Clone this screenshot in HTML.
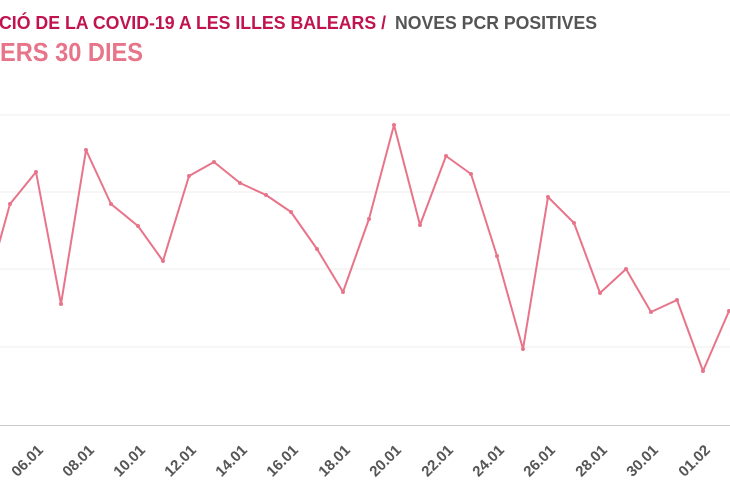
<!DOCTYPE html>
<html><head><meta charset="utf-8"><style>
html,body{margin:0;padding:0;background:#fff;width:730px;height:500px;overflow:hidden}
svg{display:block}
text{font-family:"Liberation Sans",sans-serif;font-weight:bold}
</style></head><body>
<svg width="730" height="500" viewBox="0 0 730 500">
<text x="-1" y="29" font-size="18" fill="#c0134f" textLength="387" lengthAdjust="spacingAndGlyphs">CIÓ DE LA COVID-19 A LES ILLES BALEARS /</text>
<text x="395" y="29" font-size="18" fill="#555" textLength="202" lengthAdjust="spacingAndGlyphs">NOVES PCR POSITIVES</text>
<text x="0" y="61" font-size="26" fill="#e8748a" textLength="143" lengthAdjust="spacingAndGlyphs">ERS 30 DIES</text>
<g stroke="#eee" stroke-width="1">
<line x1="0" x2="730" y1="115" y2="115"/>
<line x1="0" x2="730" y1="192" y2="192"/>
<line x1="0" x2="730" y1="269" y2="269"/>
<line x1="0" x2="730" y1="347" y2="347"/>
</g>
<line x1="0" x2="730" y1="425.5" y2="425.5" stroke="#ccc" stroke-width="1"/>
<polyline fill="none" stroke="#e8748a" stroke-width="2" stroke-linejoin="round" points="-15,294 10,204 36,172 61,304 86,150 111,204 138,226 163,261 189,176 214,162 240,183 266,195 291,212 317,249 343,292 369,219 394,125 420,225 446,156 471,174 497,256 523,349 548,197 574,223 600,293 626,269 651,312 677,300 703,371 729,311"/>
<g fill="#e8748a">
<circle cx="10" cy="204" r="2"/><circle cx="36" cy="172" r="2"/><circle cx="61" cy="304" r="2"/><circle cx="86" cy="150" r="2"/><circle cx="111" cy="204" r="2"/><circle cx="138" cy="226" r="2"/><circle cx="163" cy="261" r="2"/><circle cx="189" cy="176" r="2"/><circle cx="214" cy="162" r="2"/><circle cx="240" cy="183" r="2"/><circle cx="266" cy="195" r="2"/><circle cx="291" cy="212" r="2"/><circle cx="317" cy="249" r="2"/><circle cx="343" cy="292" r="2"/><circle cx="369" cy="219" r="2"/><circle cx="394" cy="125" r="2"/><circle cx="420" cy="225" r="2"/><circle cx="446" cy="156" r="2"/><circle cx="471" cy="174" r="2"/><circle cx="497" cy="256" r="2"/><circle cx="523" cy="349" r="2"/><circle cx="548" cy="197" r="2"/><circle cx="574" cy="223" r="2"/><circle cx="600" cy="293" r="2"/><circle cx="626" cy="269" r="2"/><circle cx="651" cy="312" r="2"/><circle cx="677" cy="300" r="2"/><circle cx="703" cy="371" r="2"/><circle cx="729" cy="311" r="2"/>
</g>
<g font-size="15" fill="#555" text-anchor="end">
<text transform="translate(44,451) rotate(-45)">06.01</text>
<text transform="translate(95,451) rotate(-45)">08.01</text>
<text transform="translate(146,451) rotate(-45)">10.01</text>
<text transform="translate(197,451) rotate(-45)">12.01</text>
<text transform="translate(248,451) rotate(-45)">14.01</text>
<text transform="translate(299,451) rotate(-45)">16.01</text>
<text transform="translate(351,451) rotate(-45)">18.01</text>
<text transform="translate(402,451) rotate(-45)">20.01</text>
<text transform="translate(454,451) rotate(-45)">22.01</text>
<text transform="translate(505,451) rotate(-45)">24.01</text>
<text transform="translate(556,451) rotate(-45)">26.01</text>
<text transform="translate(608,451) rotate(-45)">28.01</text>
<text transform="translate(659,451) rotate(-45)">30.01</text>
<text transform="translate(711,451) rotate(-45)">01.02</text>
</g>
</svg>
</body></html>
